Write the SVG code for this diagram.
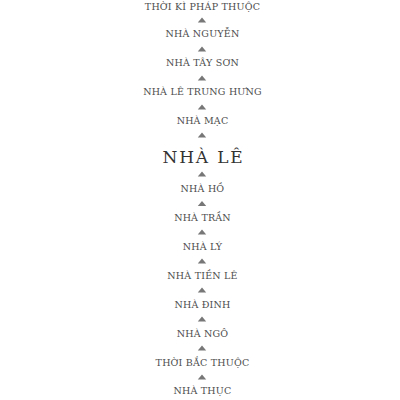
<svg xmlns="http://www.w3.org/2000/svg" xmlns:xlink="http://www.w3.org/1999/xlink" width="400" height="400" viewBox="0 0 400 400">
<style>
.t{font-family:"DejaVu Serif","Liberation Serif",serif;font-size:9.5px;letter-spacing:0.2px;fill:#4d4d4d;text-anchor:middle}
.big{font-family:"DejaVu Serif","Liberation Serif",serif;font-size:17px;letter-spacing:1.8px;fill:#333;text-anchor:middle}
.tri{fill:#777}
</style>
<defs><path id="tri" d="M-4.2,2.6 L0,-2.6 L4.2,2.6 Z"/></defs>
<rect width="400" height="400" fill="#fff"/>
<g id="connectors" class="tri">
<use xlink:href="#tri" x="202" y="20"/>
<use xlink:href="#tri" x="202" y="49"/>
<use xlink:href="#tri" x="202" y="78"/>
<use xlink:href="#tri" x="202" y="107"/>
<use xlink:href="#tri" x="202" y="135"/>
<use xlink:href="#tri" x="202" y="174"/>
<use xlink:href="#tri" x="202" y="203.5"/>
<use xlink:href="#tri" x="202" y="232"/>
<use xlink:href="#tri" x="202" y="261"/>
<use xlink:href="#tri" x="202" y="290"/>
<use xlink:href="#tri" x="202" y="319"/>
<use xlink:href="#tri" x="202" y="348"/>
<use xlink:href="#tri" x="202" y="377"/>
</g>
<g id="n-phapthuoc"><text class="t" x="202.5" y="10">THỜI KÌ PHÁP THUỘC</text></g>
<g id="n-nguyen"><text class="t" x="202.5" y="37">NHÀ NGUYỄN</text></g>
<g id="n-tayson"><text class="t" x="202.5" y="66">NHÀ TÂY SƠN</text></g>
<g id="n-letrunghung"><text class="t" x="202.5" y="95">NHÀ LÊ TRUNG HƯNG</text></g>
<g id="n-mac"><text class="t" x="202.5" y="124">NHÀ MẠC</text></g>
<g id="n-le"><text class="big" x="203.5" y="162.5">NHÀ LÊ</text></g>
<g id="n-ho"><text class="t" x="202.5" y="192">NHÀ HỒ</text></g>
<g id="n-tran"><text class="t" x="202.5" y="221">NHÀ TRẦN</text></g>
<g id="n-ly"><text class="t" x="202.5" y="250">NHÀ LÝ</text></g>
<g id="n-tienle"><text class="t" x="202.5" y="279">NHÀ TIỀN LÊ</text></g>
<g id="n-dinh"><text class="t" x="202.5" y="308">NHÀ ĐINH</text></g>
<g id="n-ngo"><text class="t" x="202.5" y="337">NHÀ NGÔ</text></g>
<g id="n-bacthuoc"><text class="t" x="202.5" y="366">THỜI BẮC THUỘC</text></g>
<g id="n-thuc"><text class="t" x="202.5" y="394">NHÀ THỤC</text></g>
</svg>
